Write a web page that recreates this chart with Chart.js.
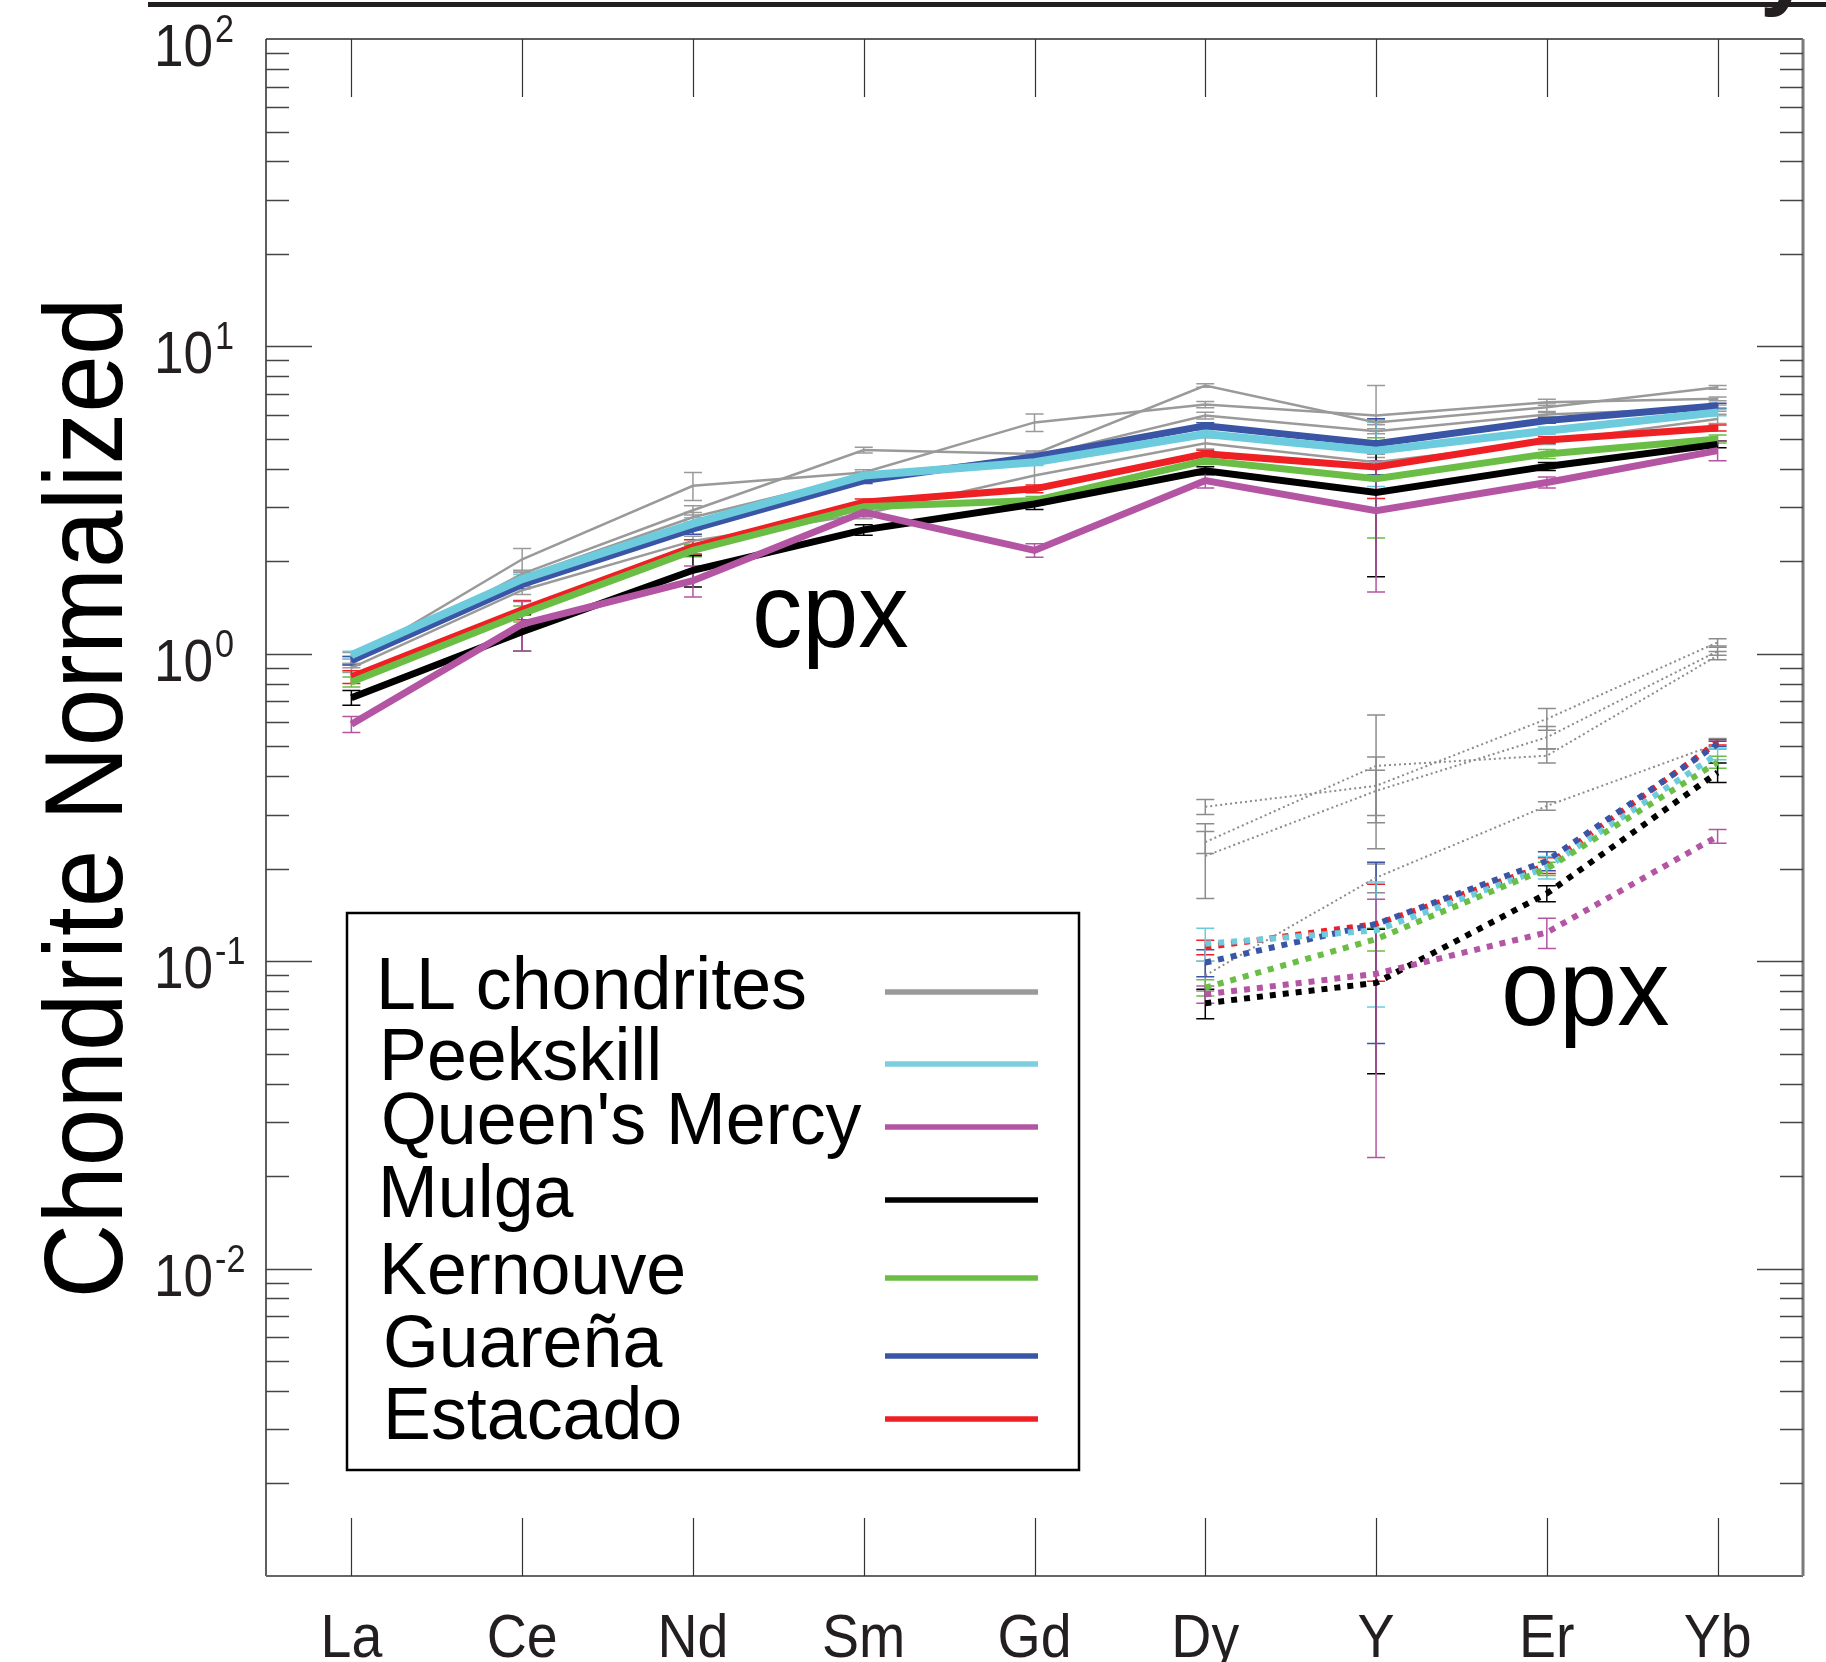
<!DOCTYPE html>
<html>
<head>
<meta charset="utf-8">
<script src="https://cdn.jsdelivr.net/npm/chart.js@4.4.1/dist/chart.umd.min.js"></script>
<style>
html,body{margin:0;padding:0;background:#fff;}
#wrap{width:1826px;height:1662px;position:relative;}
canvas{display:block;}
</style>
</head>
<body>
<div id="wrap"><canvas id="c" width="1826" height="1662"></canvas></div>
<script>
// ---------- categories / tick labels ----------
const categories = ['La','Ce','Nd','Sm','Gd','Dy','Y','Er','Yb'];
const yTickExponents = [2, 1, 0, -1, -2];
const yTitle = 'Chondrite Normalized';
const legendLabels = ['LL chondrites','Peekskill',"Queen's Mercy",'Mulga','Kernouve','Guareña','Estacado'];

// ---------- cpx (solid lines) ----------
const llCpxA        = [0.95, 2.03, 3.52, 3.89, 5.66, 6.47, 5.96, 6.58, 6.75];
const llCpxB        = [0.93, 1.82, 2.93, 4.60, 4.47, 7.46, 5.66, 6.34, 7.36];
const llCpxC        = [0.97, 1.78, 2.78, 3.80, 4.38, 5.96, 5.30, 6.00, 6.30];
const llCpxD        = [0.90, 1.61, 2.33, 2.85, 3.80, 4.84, 4.20, 4.90, 5.81];
const peekskillCpx  = [0.99, 1.75, 2.65, 3.80, 4.20, 5.19, 4.58, 5.32, 6.10];
const queensCpx     = [0.59, 1.25, 1.73, 2.89, 2.17, 3.66, 2.92, 3.61, 4.58];
const mulgaCpx      = [0.72, 1.18, 1.87, 2.53, 3.07, 3.94, 3.35, 4.07, 4.80];
const kernouveCpx   = [0.81, 1.35, 2.17, 3.01, 3.15, 4.25, 3.71, 4.47, 5.00];
const guarenaCpx    = [0.95, 1.68, 2.55, 3.66, 4.38, 5.52, 4.82, 5.74, 6.41];
const estacadoCpx   = [0.84, 1.39, 2.23, 3.11, 3.44, 4.47, 4.05, 4.96, 5.43];

// cpx error bars (absolute +/-)
const llCpxAErr       = [0.03, 0.17, 0.37, 0.08, 0.37, 0.15, 1.50, 0.15, 0.10];
const llCpxBErr       = [0.03, 0.05, 0.10, 0.10, 0.10, 0.10, 0.10, 0.20, 0.10];
const llCpxCErr       = [0.04, 0.06, 0.10, 0.10, 0.10, 0.15, 0.10, 0.10, 0.15];
const llCpxDErr       = [0.03, 0.05, 0.08, 0.10, 0.33, 0.20, 0.15, 0.10, 0.20];
const peekskillCpxErr = [0.03, 0.06, 0.12, 0.08, 0.10, 0.12, 1.08, 0.15, 0.15];
const queensCpxErr    = [0.035,0.23, 0.20, 0.10, 0.11, 0.20, 1.33, 0.15, 0.33];
const mulgaCpxErr     = [0.04, 0.16, 0.22, 0.10, 0.12, 0.12, 1.57, 0.12, 0.12];
const kernouveCpxErr  = [0.03, 0.08, 0.10, 0.08, 0.10, 0.12, 1.33, 0.15, 0.15];
const guarenaCpxErr   = [0.03, 0.05, 0.10, 0.08, 0.10, 0.12, 1.00, 0.12, 0.12];
const estacadoCpxErr  = [0.04, 0.10, 0.12, 0.08, 0.10, 0.12, 0.85, 0.12, 0.12];

// ---------- opx (dotted lines) ----------
const llOpxA        = [null, null, null, null, null, 0.318, 0.372, 0.614, 1.09];
const llOpxB        = [null, null, null, null, null, 0.244, 0.432, 0.466, 0.987];
const llOpxC        = [null, null, null, null, null, 0.220, 0.358, 0.535, 1.02];
const llOpxD        = [null, null, null, null, null, 0.090, 0.187, 0.320, 0.51];
const peekskillOpx  = [null, null, null, null, null, 0.114, 0.126, 0.202, 0.472];
const queensOpx     = [null, null, null, null, null, 0.078, 0.091, 0.124, 0.255];
const mulgaOpx      = [null, null, null, null, null, 0.073, 0.085, 0.166, 0.411];
const kernouveOpx   = [null, null, null, null, null, 0.082, 0.118, 0.200, 0.444];
const guarenaOpx    = [null, null, null, null, null, 0.099, 0.132, 0.212, 0.509];
const estacadoOpx   = [null, null, null, null, null, 0.111, 0.132, 0.205, 0.515];

const llOpxAErr       = [null, null, null, null, null, 0.018, 0.09, 0.05, 0.03];
const llOpxBErr       = [null, null, null, null, null, 0.020, 0.20, 0.025, 0.03];
const llOpxCErr       = [null, null, null, null, null, 0.060, 0.06, 0.045, 0.03];
const llOpxDErr       = [null, null, null, null, null, 0.010, 0.02, 0.010, 0.02];
const peekskillOpxErr = [null, null, null, null, null, 0.014, 0.055, 0.017, 0.02];
const queensOpxErr    = [null, null, null, null, null, 0.005, 0.068, 0.014, 0.013];
const mulgaOpxErr     = [null, null, null, null, null, 0.008, 0.042, 0.010, 0.03];
const kernouveOpxErr  = [null, null, null, null, null, 0.005, 0.010, 0.010, 0.02];
const guarenaOpxErr   = [null, null, null, null, null, 0.010, 0.078, 0.015, 0.01];
const estacadoOpxErr  = [null, null, null, null, null, 0.006, 0.046, 0.012, 0.01];

// ---------- styles ----------
const COL = {
  gray: '#9a9a9a', cyan: '#6ccbdc', purple: '#b455a3', black: '#000000',
  green: '#6abd45', blue: '#3a55a5', red: '#ee2024'
};
const legendColors = [COL.gray, '#7ccfdf', COL.purple, COL.black, COL.green, COL.blue, COL.red];
const FONT = '"Liberation Sans", Arial, Helvetica, sans-serif';

function solid(label, data, err, color, width, order) {
  return { label, data, errors: err, errColor: color, borderColor: color, borderWidth: width,
           pointRadius: 0, fill: false, tension: 0, order, borderJoinStyle: 'miter' };
}
function dotted(label, data, err, color, width, dash, order) {
  return { label, data, errors: err, errColor: color, borderColor: color, borderWidth: width,
           borderDash: dash, borderCapStyle: 'butt', pointRadius: 0, fill: false, tension: 0, order };
}

const datasets = [
  // opx
  dotted('LL opx A', llOpxA, llOpxAErr, '#8c8c8c', 2, [2, 3], 40),
  dotted('LL opx B', llOpxB, llOpxBErr, '#8c8c8c', 2, [2, 3], 40),
  dotted('LL opx C', llOpxC, llOpxCErr, '#8c8c8c', 2, [2, 3], 40),
  dotted('LL opx D', llOpxD, llOpxDErr, '#8c8c8c', 2, [2, 3], 40),
  dotted('Estacado opx', estacadoOpx, estacadoOpxErr, COL.red, 6, [6, 7], 36),
  dotted('Guareña opx', guarenaOpx, guarenaOpxErr, COL.blue, 6, [6, 7], 35),
  dotted('Peekskill opx', peekskillOpx, peekskillOpxErr, COL.cyan, 6, [6, 7], 34),
  dotted('Kernouve opx', kernouveOpx, kernouveOpxErr, COL.green, 6, [6, 7], 33),
  dotted('Mulga opx', mulgaOpx, mulgaOpxErr, COL.black, 6, [6, 7], 32),
  dotted("Queen's Mercy opx", queensOpx, queensOpxErr, COL.purple, 6, [6, 7], 31),
  // cpx
  solid('LL cpx A', llCpxA, llCpxAErr, COL.gray, 2.5, 20),
  solid('LL cpx B', llCpxB, llCpxBErr, COL.gray, 2.5, 20),
  solid('LL cpx C', llCpxC, llCpxCErr, COL.gray, 2.5, 20),
  solid('LL cpx D', llCpxD, llCpxDErr, COL.gray, 2.5, 20),
  solid('Guareña cpx', guarenaCpx, guarenaCpxErr, COL.blue, 7, 16),
  solid('Peekskill cpx', peekskillCpx, peekskillCpxErr, COL.cyan, 8, 15),
  solid('Estacado cpx', estacadoCpx, estacadoCpxErr, COL.red, 7, 14),
  solid('Kernouve cpx', kernouveCpx, kernouveCpxErr, COL.green, 7, 13),
  solid('Mulga cpx', mulgaCpx, mulgaCpxErr, COL.black, 7, 12),
  solid("Queen's Mercy cpx", queensCpx, queensCpxErr, COL.purple, 7, 11)
];

function drawText(ctx, txt, x, y, size, k, align, baseline, weight) {
  ctx.save();
  ctx.font = (weight || 'normal') + ' ' + size + 'px ' + FONT;
  ctx.textAlign = align || 'left';
  ctx.textBaseline = baseline || 'alphabetic';
  ctx.translate(x, y);
  ctx.scale(k, 1);
  ctx.fillText(txt, 0, 0);
  ctx.restore();
}

const decor = {
  id: 'decor',
  beforeDatasetsDraw(chart) {
    const ctx = chart.ctx, xs = chart.scales.x, ys = chart.scales.y;
    ctx.save();
    ctx.lineWidth = 1.5;
    chart.data.datasets.forEach(ds => {
      if (!ds.errors) return;
      ctx.strokeStyle = ds.errColor;
      ds.data.forEach((v, i) => {
        const e = ds.errors[i];
        if (v == null || e == null) return;
        const px = xs.getPixelForValue(i);
        const lo = Math.max(v - e, 0.0012);
        const y1 = ys.getPixelForValue(v + e), y2 = ys.getPixelForValue(lo);
        ctx.beginPath();
        ctx.moveTo(px, y1); ctx.lineTo(px, y2);
        ctx.moveTo(px - 9, y1); ctx.lineTo(px + 9, y1);
        ctx.moveTo(px - 9, y2); ctx.lineTo(px + 9, y2);
        ctx.stroke();
      });
    });
    ctx.restore();
  },
  afterDraw(chart) {
    const ctx = chart.ctx, ca = chart.chartArea, xs = chart.scales.x, ys = chart.scales.y;
    ctx.save();
    // frame
    ctx.lineCap = 'butt';
    ctx.strokeStyle = '#2a2a2a'; ctx.lineWidth = 1.5;
    ctx.beginPath(); ctx.moveTo(ca.left, ca.top); ctx.lineTo(ca.right, ca.top); ctx.stroke();
    ctx.beginPath(); ctx.moveTo(ca.left, ca.top); ctx.lineTo(ca.left, ca.bottom); ctx.stroke();
    ctx.strokeStyle = '#666'; ctx.lineWidth = 2;
    ctx.beginPath(); ctx.moveTo(ca.left, ca.bottom); ctx.lineTo(ca.right, ca.bottom); ctx.stroke();
    ctx.strokeStyle = '#7a7a7a'; ctx.lineWidth = 3;
    ctx.beginPath(); ctx.moveTo(ca.right, ca.top); ctx.lineTo(ca.right, ca.bottom); ctx.stroke();

    // y ticks (log, inside, both sides)
    ctx.strokeStyle = '#444'; ctx.lineWidth = 1.5;
    for (let e = -3; e < 2; e++) {
      for (let m = 1; m < 10; m++) {
        const v = m * Math.pow(10, e);
        const py = Math.round(ys.getPixelForValue(v)) + 0.5;
        if (py <= ca.top + 2 || py >= ca.bottom - 2) continue;
        const len = m === 1 ? 46 : 23;
        ctx.beginPath();
        ctx.moveTo(ca.left, py); ctx.lineTo(ca.left + len, py);
        ctx.moveTo(ca.right, py); ctx.lineTo(ca.right - len, py);
        ctx.stroke();
      }
    }
    // x ticks (inside, top and bottom)
    ctx.strokeStyle = '#333'; ctx.lineWidth = 1.2;
    categories.forEach((c, i) => {
      const px = Math.round(xs.getPixelForValue(i)) + 0.5;
      ctx.beginPath();
      ctx.moveTo(px, ca.top); ctx.lineTo(px, ca.top + 58);
      ctx.moveTo(px, ca.bottom); ctx.lineTo(px, ca.bottom - 58);
      ctx.stroke();
    });

    // y tick labels 10^n
    ctx.fillStyle = '#231f20';
    yTickExponents.forEach(ex => {
      const py = ys.getPixelForValue(Math.pow(10, ex));
      drawText(ctx, '10', 213, py + 27, 59, 0.9, 'right');
      drawText(ctx, String(ex), 215, py + 3, 38, 0.9, 'left');
    });
    // x labels
    categories.forEach((c, i) => {
      drawText(ctx, c, xs.getPixelForValue(i), 1657, 61, 0.91, 'center');
    });

    // y title
    ctx.save();
    ctx.fillStyle = '#000';
    ctx.translate(122, 798);
    ctx.rotate(-Math.PI / 2);
    ctx.font = '112px ' + FONT;
    const w = ctx.measureText(yTitle).width;
    ctx.scale(1001 / w, 1);
    ctx.textAlign = 'center';
    ctx.textBaseline = 'alphabetic';
    ctx.fillText(yTitle, 0, 0);
    ctx.restore();

    // annotations
    ctx.fillStyle = '#000';
    drawText(ctx, 'cpx', 752, 647, 106, 0.95, 'left');
    drawText(ctx, 'opx', 1501, 1025, 110, 0.95, 'left');

    // legend
    ctx.fillStyle = '#fff';
    ctx.fillRect(347, 913, 732, 557);
    ctx.strokeStyle = '#000'; ctx.lineWidth = 2.5;
    ctx.strokeRect(347, 913, 732, 557);
    const textX = [376, 379, 381, 378, 379, 383, 383];
    const textY = [1009, 1080, 1144, 1217, 1294, 1367, 1439];
    const lineY = [992, 1064, 1127, 1200, 1278, 1356, 1419];
    ctx.fillStyle = '#000';
    legendLabels.forEach((lab, i) => {
      drawText(ctx, lab, textX[i], textY[i], 74, 0.97, 'left');
      ctx.strokeStyle = legendColors[i]; ctx.lineWidth = 5.5;
      ctx.beginPath(); ctx.moveTo(885, lineY[i]); ctx.lineTo(1038, lineY[i]); ctx.stroke();
    });

    // top rule (cropped header) and descender of cropped title letter
    ctx.fillStyle = '#231f20';
    ctx.fillRect(148, 2, 1826 - 148, 5);
    drawText(ctx, 'y', 1760, -2, 92, 1, 'left', 'alphabetic', 'bold');
    ctx.restore();
  }
};

new Chart(document.getElementById('c'), {
  type: 'line',
  data: { labels: categories, datasets },
  options: {
    responsive: false,
    animation: false,
    devicePixelRatio: 1,
    layout: { padding: { left: 266, right: 23, top: 39, bottom: 86 } },
    plugins: { legend: { display: false }, tooltip: { enabled: false } },
    scales: {
      x: { type: 'category', offset: true, display: false },
      y: { type: 'logarithmic', min: 0.001, max: 100, display: false }
    }
  },
  plugins: [decor]
});
</script>
</body>
</html>
